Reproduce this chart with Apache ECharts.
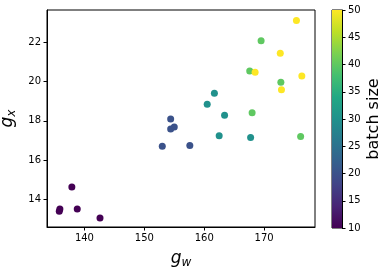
<!DOCTYPE html>
<html><head><meta charset="utf-8">
<script src="https://cdn.jsdelivr.net/npm/echarts@6/dist/echarts.min.js"></script>
<style>html,body{margin:0;padding:0;background:#fff}#c{width:388px;height:272px}</style>
</head><body><div id="c"></div>
<script>
const gw = [137.9,135.9,135.8,138.8,142.6, 154.4,154.4,155.0,153.0,157.6, 161.7,160.5,163.4,162.5,167.75, 169.5,167.6,172.8,168.0,176.1, 175.4,172.7,168.5,176.3,172.9];
const gx = [14.63,13.51,13.39,13.51,13.05, 18.09,17.58,17.69,16.71,16.74, 19.41,18.85,18.29,17.24,17.15, 22.08,20.54,19.97,18.41,17.20, 23.12,21.44,20.48,20.28,19.58];
const batch = [10,10,10,10,10, 20,20,20,20,20, 30,30,30,30,30, 40,40,40,40,40, 50,50,50,50,50];
const xTicks = [140,150,160,170];
const yTicks = [14,16,18,20,22];
const viridis = ['#440154','#482475','#414487','#355f8d','#2a788e','#21918c','#22a884','#44bf70','#7ad151','#bddf26','#fde725'];

const pts = gw.map((v,i)=>[v,gx[i],batch[i]]);
const font = 'DejaVu Sans';
const chart = echarts.init(document.getElementById('c'));
chart.setOption({
  animation:false,
  backgroundColor:'#fff',
  textStyle:{fontFamily:font},
  grid:[
    {left:47,top:10,width:268,height:217,show:true,borderColor:'#000',borderWidth:1,backgroundColor:'transparent',containLabel:false,outerBoundsMode:'none'},
    {left:332,top:10,width:10,height:218,show:true,borderColor:'#000',borderWidth:1,backgroundColor:'transparent',containLabel:false,outerBoundsMode:'none'}
  ],
  visualMap:{show:false,type:'continuous',min:10,max:50,dimension:2,seriesIndex:0,inRange:{color:viridis}},
  xAxis:[
    {type:'value',gridIndex:0,min:133.75,max:178.5,
     axisLine:{show:true,onZero:false,lineStyle:{color:'#000'}},
     axisTick:{show:true,length:3.5,customValues:xTicks,lineStyle:{color:'#000'}},
     axisLabel:{customValues:xTicks,color:'#000',fontSize:10,margin:6,fontFamily:font},
     splitLine:{show:false},
     name:'{i|g}{s|w}',nameLocation:'middle',nameGap:22,
     nameTextStyle:{rich:{i:{fontSize:17,fontStyle:'italic',fontFamily:font,color:'#000'},s:{fontSize:12,fontStyle:'italic',fontFamily:font,color:'#000',padding:[8,0,0,0]}}}},
    {type:'category',gridIndex:1,data:['c'],show:false}
  ],
  yAxis:[
    {type:'value',gridIndex:0,min:12.59,max:23.65,
     axisLine:{show:true,onZero:false,lineStyle:{color:'#000'}},
     axisTick:{show:true,length:3.5,customValues:yTicks,lineStyle:{color:'#000'}},
     axisLabel:{customValues:yTicks,color:'#000',fontSize:10,margin:6,fontFamily:font},
     splitLine:{show:false},
     name:'{i|g}{s|x}',nameLocation:'middle',nameGap:25,nameRotate:90,
     nameTextStyle:{rich:{i:{fontSize:17,fontStyle:'italic',fontFamily:font,color:'#000'},s:{fontSize:12,fontStyle:'italic',fontFamily:font,color:'#000',padding:[8,0,0,0]}}}},
    {type:'value',gridIndex:1,min:10,max:50,interval:5,position:'right',
     axisLine:{show:true,lineStyle:{color:'#000'}},
     axisTick:{show:true,length:3.5,lineStyle:{color:'#000'}},
     axisLabel:{color:'#000',fontSize:10,margin:6,fontFamily:font},
     splitLine:{show:false},
     name:'batch size',nameLocation:'middle',nameGap:24,nameRotate:90,
     nameTextStyle:{fontSize:16,color:'#000',fontFamily:font}}
  ],
  series:[
    {type:'scatter',xAxisIndex:0,yAxisIndex:0,data:pts,symbolSize:7,itemStyle:{opacity:1}},
    {type:'bar',xAxisIndex:1,yAxisIndex:1,data:[50],barWidth:'100%',clip:true,silent:true,
     itemStyle:{color:{type:'linear',x:0,y:228,x2:0,y2:10,global:true,
       colorStops:viridis.map((c,i)=>({offset:i/(viridis.length-1),color:c}))}}}
  ]
});
</script></body></html>
